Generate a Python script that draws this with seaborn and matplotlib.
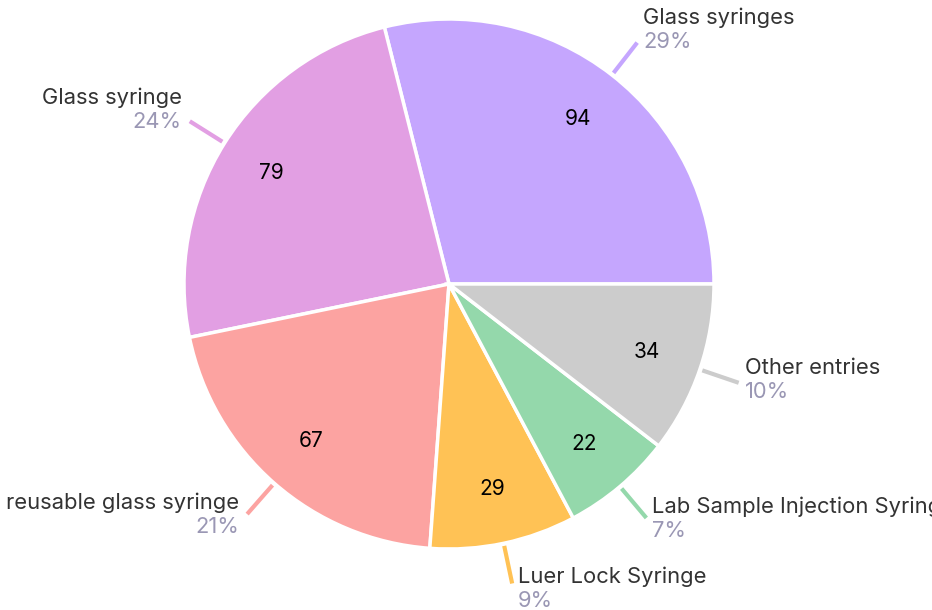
import numpy as np
import matplotlib.pyplot as plt
import seaborn as sns

# slice data, counter-clockwise from 3 o'clock
labels = ["Glass syringes", "Glass syringe", "reusable glass syringe",
          "Luer Lock Syringe", "Lab Sample Injection Syringe", "Other entries"]
values = [94, 79, 67, 29, 22, 34]
colors = ["#c5a6fe", "#e29fe3", "#fca3a1", "#ffc255", "#94d8ab", "#cccccc"]
# small vertical nudges (px) for the outside labels
nudge = [-14, -12, 0, 5, 0, -4]

sns.set_theme(style="white")
plt.rcParams['font.family'] = ['Inter', 'DejaVu Sans']

total = sum(values)
fig = plt.figure(figsize=(9.32, 6.10), dpi=100)
ax = fig.add_axes([0, 0, 1, 1])
cx, cy, r = 449, 610 - 284, 265

wedges, texts, autotexts = ax.pie(
    values, colors=colors, startangle=0, counterclock=True,
    center=(cx, cy), radius=r,
    autopct=lambda p: f"{p * total / 100:.0f}", pctdistance=0.79,
    wedgeprops=dict(edgecolor="white", linewidth=2.5),
    textprops=dict(fontsize=15, color="black"))

for w, name, v, dy in zip(wedges, labels, values, nudge):
    ang = np.deg2rad((w.theta1 + w.theta2) / 2)
    c, s = np.cos(ang), np.sin(ang)
    x0, y0 = cx + 1.01 * r * c, cy + 1.01 * r * s
    x1, y1 = cx + 1.155 * r * c, cy + 1.155 * r * s
    ax.plot([x0, x1], [y0, y1], color=w.get_facecolor(), lw=3, solid_capstyle="butt")
    if c >= 0:
        ha, tx = "left", x1 + 6
    else:
        ha, tx = "right", x1 - 8
    yc = y1 - dy  # centre of the two-line block
    ax.text(tx, yc + 12 - 7, name, ha=ha, va="baseline", fontsize=15.8, color="#333333")
    ax.text(tx, yc - 12 - 7, f"{v / total * 100:.0f}%", ha=ha, va="baseline",
            fontsize=15.8, color="#9a97b4")

ax.set_xlim(0, 932)
ax.set_ylim(0, 610)
ax.set_aspect("equal")
ax.axis("off")
fig.savefig("out.png", dpi=100)
